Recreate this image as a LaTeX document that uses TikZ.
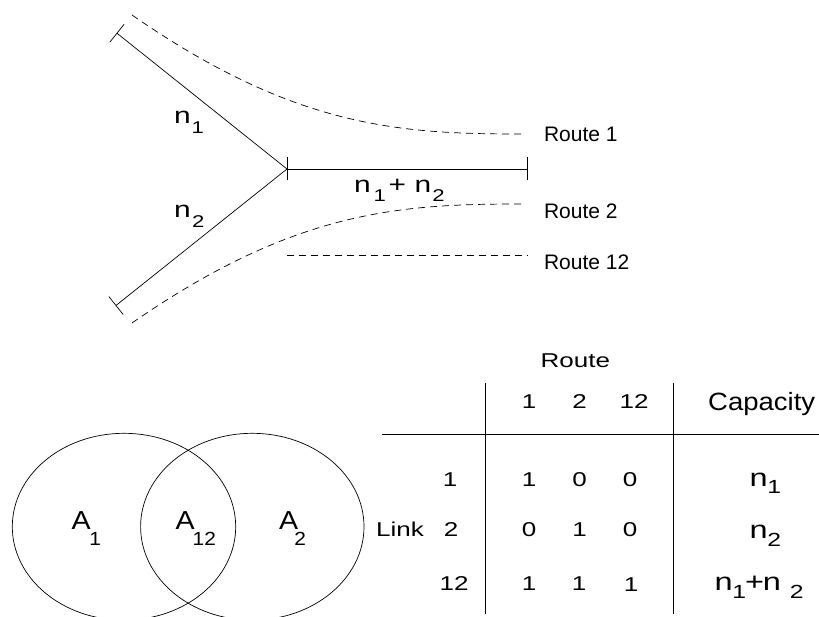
\documentclass[tikz,border=0pt]{standalone}
\usepackage{fontspec}
\setmainfont{Liberation Sans}
\newfontfamily\wfont[FakeStretch=1.3]{Liberation Sans}
\newfontfamily\cfont[FakeStretch=1.1]{Liberation Sans}
\usetikzlibrary{arrows.meta}
\newcommand{\fs}[1]{\fontsize{#1}{#1}\selectfont}
% main, sub, main size, sub size, kern, drop
\newcommand{\wsub}[6]{{\wfont\fs{#3}#1}\kern#5pt\raisebox{-#6pt}{\wfont\fs{#4}#2}}
\newcommand{\csub}[6]{{\cfont\fs{#3}#1}\kern#5pt\raisebox{-#6pt}{\cfont\fs{#4}#2}}
\tikzset{
  lbl/.style={inner sep=0pt, outer sep=0pt, anchor=base west},
  cell/.style={inner sep=0pt, outer sep=0pt, anchor=base, font=\wfont\fs{20}},
  rlabel/.style={inner sep=0pt, outer sep=0pt, anchor=base west, font=\fs{21}},
  link/.style={line width=0.7pt},
  route/.style={line width=0.7pt, dash pattern=on 7pt off 5pt},
  endbar/.tip={Bar[width=23pt, line width=0.7pt]}
}
\begin{document}
\begin{tikzpicture}[x=1pt, y=-1pt]
\clip (0,0) rectangle (819,617);
% network
\coordinate (a) at (116.7,33);
\coordinate (b) at (115.7,305.7);
\coordinate (j) at (287,169);
\coordinate (e) at (527.5,169);
\draw[link, arrows={endbar-}] (a) -- (j);
\draw[link, arrows={endbar-}] (b) -- (j);
\draw[link, arrows={endbar-endbar}] (j) -- (e);
% routes
\coordinate (r1s) at (132,15);
\coordinate (r1e) at (522,134);
\coordinate (r2s) at (132,323);
\coordinate (r2e) at (522,204);
\coordinate (r3s) at (287,255);
\coordinate (r3e) at (528,255);
\draw[route] (r1s) .. controls (295,128) and (400,134) .. (r1e);
\draw[route] (r2s) .. controls (295,210) and (400,204) .. (r2e);
\draw[route] (r3s) -- (r3e);
\node[rlabel] (lr1) at (544,141.7) {Route 1};
\node[rlabel] (lr2) at (544,219) {Route 2};
\node[rlabel] (lr3) at (544,270) {Route 12};
% capacities on links
\node[lbl] (ln1) at (174,124) {\wsub{n}{1}{23}{17}{1}{10}};
\node[lbl] (ln2) at (174,218) {\wsub{n}{2}{23}{17}{1.4}{10}};
\node[lbl] (ln12) at (354,193) {\wsub{n}{1}{23}{17}{3}{8.7}\kern2.6pt{\wfont\fs{23}+}\kern8.7pt\wsub{n}{2}{23}{17}{1}{8.7}};
% Venn diagram
\draw[link] (124,526.7) ellipse [x radius=111.7, y radius=93.4];
\draw[link] (252.3,526.7) ellipse [x radius=111.7, y radius=93.4];
\node[lbl] (A1) at (71.7,529.3) {\csub{A}{1}{26}{19}{-1.4}{16.6}};
\node[lbl] (A12) at (175.7,529.3) {\csub{A}{12}{26}{19}{-2.1}{16.4}};
\node[lbl] (A2) at (279,529.3) {\csub{A}{2}{26}{19}{-3.7}{16.4}};
% table
\coordinate (v1t) at (485,382.7);
\coordinate (v1b) at (485,614);
\coordinate (v2t) at (673.3,382.7);
\coordinate (v2b) at (673.3,614);
\coordinate (hl) at (381.7,434);
\coordinate (hr) at (819,434);
\draw[link] (v1t) -- (v1b);
\draw[link] (v2t) -- (v2b);
\draw[link] (hl) -- (hr);
\node[cell] (troute) at (575.3,367.3) {Route};
\node[cell] (h1) at (529,408.3) {1};
\node[cell] (h2) at (579.5,408.3) {2};
\node[cell] (h12) at (634,408.3) {12};
\node[inner sep=0pt, anchor=base, font=\cfont\fs{25}] (hcap) at (761.7,410) {Capacity};
\node[cell] (tlink) at (400,536.7) {Link};
\node[cell] (l1) at (450,486.7) {1};
\node[cell] (l2) at (451,536.7) {2};
\node[cell] (l12) at (454,590) {12};
\node[cell] (m11) at (529,486.7) {1};
\node[cell] (m12) at (579.5,486.7) {0};
\node[cell] (m13) at (630,486.7) {0};
\node[cell] (m21) at (529,536.7) {0};
\node[cell] (m22) at (579.5,536.7) {1};
\node[cell] (m23) at (630,536.7) {0};
\node[cell] (m31) at (529,590) {1};
\node[cell] (m32) at (579,590) {1};
\node[cell] (m33) at (631,591.7) {1};
\node[lbl] (c1) at (749.6,486.7) {\wsub{n}{1}{25}{19}{-0.4}{7}};
\node[lbl] (c2) at (749.6,538) {\wsub{n}{2}{25}{19}{-0.4}{8}};
\node[lbl] (c12) at (714.6,590) {\wsub{n}{1}{25}{19}{-0.4}{8}\kern-0.9pt{\wfont\fs{25}+}\kern-1.2pt\wsub{n}{2}{25}{19}{9}{8}};
\end{tikzpicture}
\end{document}
